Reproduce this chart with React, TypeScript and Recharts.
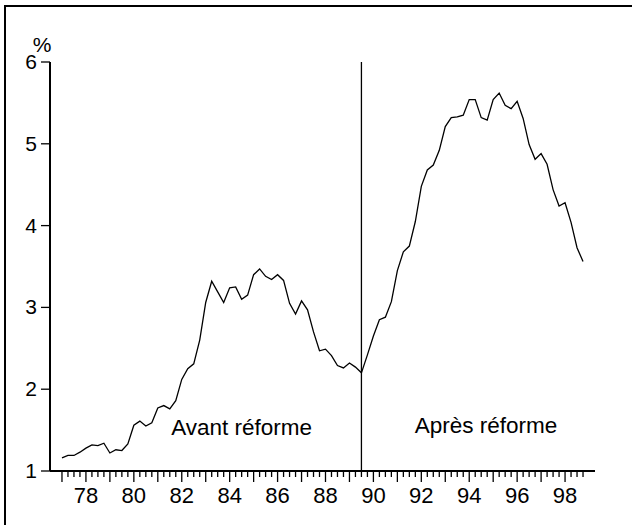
import React from 'react';
import { LineChart, Line, XAxis, YAxis, ReferenceLine, ReferenceDot } from 'recharts';

// Quarterly series, 1977Q1 .. 1989Q3 (before the reform)
const avantReforme = [
  1.16, 1.19, 1.19, 1.23, 1.28, 1.32, 1.31, 1.34, 1.22, 1.26, 1.25, 1.33,
  1.56, 1.61, 1.55, 1.59, 1.77, 1.80, 1.76, 1.86, 2.12, 2.25, 2.31, 2.60,
  3.06, 3.32, 3.19, 3.06, 3.24, 3.25, 3.10, 3.15, 3.40, 3.47, 3.38, 3.34,
  3.40, 3.33, 3.05, 2.92, 3.08, 2.97, 2.70, 2.47, 2.49, 2.41, 2.29, 2.26,
  2.32, 2.27, 2.20,
];

// 1989Q4 .. 1998Q4 (after the reform)
const apresReforme = [
  2.42, 2.65, 2.85, 2.88, 3.07, 3.45, 3.68, 3.75, 4.05, 4.48, 4.68, 4.74,
  4.92, 5.21, 5.32, 5.33, 5.35, 5.54, 5.54, 5.32, 5.29, 5.54, 5.62, 5.47,
  5.43, 5.52, 5.31, 4.99, 4.81, 4.88, 4.75, 4.44, 4.24, 4.28, 4.04, 3.73,
  3.56,
];

const startYear = 1977;
const tickYears = [
  1977, 1978, 1979, 1980, 1981, 1982, 1983, 1984, 1985, 1986, 1987,
  1988, 1989, 1990, 1991, 1992, 1993, 1994, 1995, 1996, 1997, 1998,
];
const labelYears = [1978, 1980, 1982, 1984, 1986, 1988, 1990, 1992, 1994, 1996, 1998];
const yTicks = [1, 2, 3, 4, 5, 6];
const reformDate = 1989.5;

const data = [...avantReforme, ...apresReforme].map((v, i) => ({ t: startYear + i / 4, v }));
const quarterTicks = tickYears.flatMap(y => [y, y + 0.25, y + 0.5, y + 0.75]);

const FONT = '"Liberation Sans", Arial, sans-serif';

const XTick = (props: any) => {
  const { x, y, payload } = props;
  const val: number = payload.value;
  const yr = Math.round(val);
  const major = Math.abs(val - yr) < 1e-6;
  return (
    <g>
      <line x1={x} x2={x} y1={y} y2={y + (major ? 11 : 6)} stroke="#000" strokeWidth={1.3} />
      {major && labelYears.includes(yr) && (
        <text x={x} y={y + 32} textAnchor="middle" fontSize={22} fontFamily={FONT} fill="#000">
          {String(yr % 100).padStart(2, '0')}
        </text>
      )}
    </g>
  );
};

const YTick = (props: any) => {
  const { x, y, payload } = props;
  return (
    <g>
      <line x1={x - 9} x2={x} y1={y} y2={y} stroke="#000" strokeWidth={1.3} />
      <text x={x - 13} y={y + 7} textAnchor="end" fontSize={21} fontFamily={FONT} fill="#000">
        {payload.value}
      </text>
      {payload.value === 6 && (
        <text x={x - 8} y={y - 10} textAnchor="middle" fontSize={21} fontFamily={FONT} fill="#000">
          %
        </text>
      )}
    </g>
  );
};

const note = (txt: string) => (p: any) => (
  <text x={p.cx} y={p.cy} textAnchor="middle" fontSize={22.5} fontFamily={FONT} fill="#000">
    {txt}
  </text>
);

export default function App() {
  return (
    <div style={{ position: 'absolute', left: 0, top: 0, width: 632, height: 525, background: '#fff' }}>
      <div style={{ position: 'absolute', left: 4, top: 5, width: 628, height: 2, background: '#000' }} />
      <div style={{ position: 'absolute', left: 4, top: 5, width: 2, height: 520, background: '#000' }} />
      <LineChart
        width={632}
        height={525}
        data={data}
        margin={{ top: 62, right: 37, left: 0, bottom: 0 }}
      >
        <XAxis
          dataKey="t"
          type="number"
          domain={[1976.5, 1999.25]}
          ticks={quarterTicks}
          interval={0}
          allowDataOverflow
          height={54}
          tickSize={0}
          tickMargin={0}
          tickLine={false}
          axisLine={{ stroke: '#000', strokeWidth: 2 }}
          tick={<XTick />}
        />
        <YAxis
          type="number"
          domain={[1, 6]}
          ticks={yTicks}
          interval={0}
          width={50}
          tickSize={0}
          tickMargin={0}
          tickLine={false}
          axisLine={{ stroke: '#000', strokeWidth: 2 }}
          tick={<YTick />}
        />
        <ReferenceLine x={reformDate} stroke="#000" strokeWidth={1.3} />
        <Line
          type="linear"
          dataKey="v"
          stroke="#000"
          strokeWidth={1.3}
          dot={false}
          isAnimationActive={false}
        />
        <ReferenceDot x={1984.5} y={1.44} r={0} shape={note('Avant réforme')} />
        <ReferenceDot x={1994.7} y={1.46} r={0} shape={note('Après réforme')} />
      </LineChart>
    </div>
  );
}
